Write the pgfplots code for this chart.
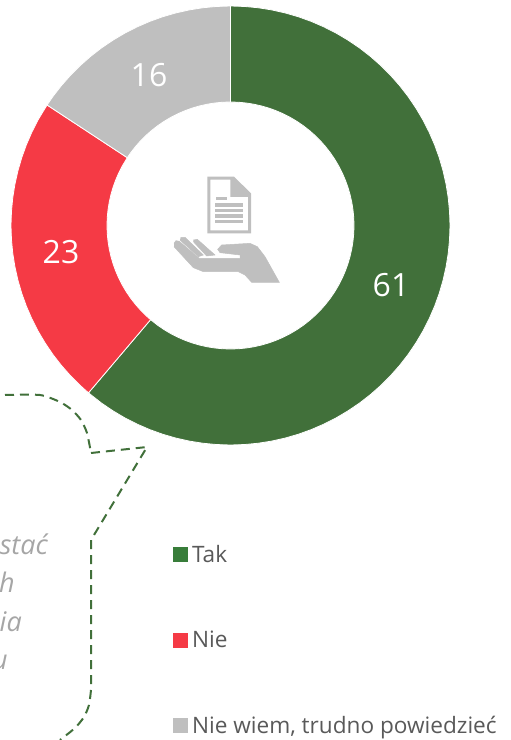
\documentclass[border=0pt]{standalone}
\usepackage{pgfplots}
\pgfplotsset{compat=1.18}
\usepackage{fontspec}
\setmainfont{Open Sans}
\definecolor{cgreen}{RGB}{65,112,58}
\definecolor{lgreen}{RGB}{56,125,58}
\definecolor{cred}{RGB}{245,58,69}
\definecolor{cgray}{RGB}{191,191,191}
\definecolor{ctext}{RGB}{89,89,89}
\definecolor{citalic}{RGB}{166,166,166}
\pgfplotsset{
  px/.style={x filter/.expression={x-230.5}, y filter/.expression={225.5-y}},
  zm/.style={x filter/.expression={x/3+160-230.5}, y filter/.expression={225.5-(y/3+165)}},
  wedge/.style n args={2}{fill=#1, draw=white, line width=0.8pt, data cs=polar,
    legend image code/.code={\path[draw=none, fill=#2] (0pt,-7.5pt) rectangle (15pt,7.5pt); \path[draw=none, fill=none] (0pt,0pt) -- (17.5pt,0pt);}},
  icon/.style={fill=cgray, draw=cgray, line width=0.5pt, forget plot, zm},
  leader/.style={draw=cgreen, line width=2pt, dash pattern=on 9pt off 6pt, forget plot, px},
}
\begin{document}
\begin{tikzpicture}
\useasboundingbox (0,0) rectangle (511pt,740pt);
\begin{axis}[
  at={(0,0)}, anchor=south west, width=511pt, height=740pt, scale only axis,
  xmin=-230.5, xmax=280.5, ymin=-514.5, ymax=225.5, hide axis,
  legend style={at={(axis cs:-58,-318)}, anchor=north west, draw=none, fill=none, inner sep=0pt, outer sep=0pt,
    font=\fontsize{22.6}{27}\selectfont\color{ctext}, row sep=63pt},
  legend cell align=left,
]
% Tak 61
\addplot[wedge={cgreen}{lgreen}] table[row sep=\\, x expr=90-3.6*\thisrow{p}, y=r] {
p r\\ 0 219.5\\ 1 219.5\\ 2 219.5\\ 3 219.5\\ 4 219.5\\ 5 219.5\\ 6 219.5\\ 7 219.5\\ 8 219.5\\ 9 219.5\\ 10 219.5\\ 11 219.5\\ 12 219.5\\ 13 219.5\\ 14 219.5\\ 15 219.5\\ 16 219.5\\ 17 219.5\\ 18 219.5\\ 19 219.5\\ 20 219.5\\ 21 219.5\\ 22 219.5\\ 23 219.5\\ 24 219.5\\ 25 219.5\\ 26 219.5\\ 27 219.5\\ 28 219.5\\ 29 219.5\\ 30 219.5\\ 31 219.5\\ 32 219.5\\ 33 219.5\\ 34 219.5\\ 35 219.5\\ 36 219.5\\ 37 219.5\\ 38 219.5\\ 39 219.5\\ 40 219.5\\ 41 219.5\\ 42 219.5\\ 43 219.5\\ 44 219.5\\ 45 219.5\\ 46 219.5\\ 47 219.5\\ 48 219.5\\ 49 219.5\\ 50 219.5\\ 51 219.5\\ 52 219.5\\ 53 219.5\\ 54 219.5\\ 55 219.5\\ 56 219.5\\ 57 219.5\\ 58 219.5\\ 59 219.5\\ 60 219.5\\ 61.2 219.5\\
61.2 123.5\\ 60 123.5\\ 59 123.5\\ 58 123.5\\ 57 123.5\\ 56 123.5\\ 55 123.5\\ 54 123.5\\ 53 123.5\\ 52 123.5\\ 51 123.5\\ 50 123.5\\ 49 123.5\\ 48 123.5\\ 47 123.5\\ 46 123.5\\ 45 123.5\\ 44 123.5\\ 43 123.5\\ 42 123.5\\ 41 123.5\\ 40 123.5\\ 39 123.5\\ 38 123.5\\ 37 123.5\\ 36 123.5\\ 35 123.5\\ 34 123.5\\ 33 123.5\\ 32 123.5\\ 31 123.5\\ 30 123.5\\ 29 123.5\\ 28 123.5\\ 27 123.5\\ 26 123.5\\ 25 123.5\\ 24 123.5\\ 23 123.5\\ 22 123.5\\ 21 123.5\\ 20 123.5\\ 19 123.5\\ 18 123.5\\ 17 123.5\\ 16 123.5\\ 15 123.5\\ 14 123.5\\ 13 123.5\\ 12 123.5\\ 11 123.5\\ 10 123.5\\ 9 123.5\\ 8 123.5\\ 7 123.5\\ 6 123.5\\ 5 123.5\\ 4 123.5\\ 3 123.5\\ 2 123.5\\ 1 123.5\\ 0 123.5\\ 0 219.5\\
};
\addlegendentry{Tak}
% Nie 23
\addplot[wedge={cred}{cred}] table[row sep=\\, x expr=90-3.6*\thisrow{p}, y=r] {
p r\\ 61.2 219.5\\ 62 219.5\\ 63 219.5\\ 64 219.5\\ 65 219.5\\ 66 219.5\\ 67 219.5\\ 68 219.5\\ 69 219.5\\ 70 219.5\\ 71 219.5\\ 72 219.5\\ 73 219.5\\ 74 219.5\\ 75 219.5\\ 76 219.5\\ 77 219.5\\ 78 219.5\\ 79 219.5\\ 80 219.5\\ 81 219.5\\ 82 219.5\\ 83 219.5\\ 84.25 219.5\\
84.25 123.5\\ 83 123.5\\ 82 123.5\\ 81 123.5\\ 80 123.5\\ 79 123.5\\ 78 123.5\\ 77 123.5\\ 76 123.5\\ 75 123.5\\ 74 123.5\\ 73 123.5\\ 72 123.5\\ 71 123.5\\ 70 123.5\\ 69 123.5\\ 68 123.5\\ 67 123.5\\ 66 123.5\\ 65 123.5\\ 64 123.5\\ 63 123.5\\ 62 123.5\\ 61.2 123.5\\ 61.2 219.5\\
};
\addlegendentry{Nie}
% Nie wiem 16
\addplot[wedge={cgray}{cgray}] table[row sep=\\, x expr=90-3.6*\thisrow{p}, y=r] {
p r\\ 84.25 219.5\\ 85 219.5\\ 86 219.5\\ 87 219.5\\ 88 219.5\\ 89 219.5\\ 90 219.5\\ 91 219.5\\ 92 219.5\\ 93 219.5\\ 94 219.5\\ 95 219.5\\ 96 219.5\\ 97 219.5\\ 98 219.5\\ 99 219.5\\ 100 219.5\\
100 123.5\\ 99 123.5\\ 98 123.5\\ 97 123.5\\ 96 123.5\\ 95 123.5\\ 94 123.5\\ 93 123.5\\ 92 123.5\\ 91 123.5\\ 90 123.5\\ 89 123.5\\ 88 123.5\\ 87 123.5\\ 86 123.5\\ 85 123.5\\ 84.25 123.5\\ 84.25 219.5\\
};
\addlegendentry{Nie wiem, trudno powiedzieć}
% data labels
\node[text=white, font=\fontsize{32}{38}\selectfont] at (axis cs:160.5,-59.5) {61};
\node[text=white, font=\fontsize{32}{38}\selectfont] at (axis cs:-169.5,-26.5) {23};
\node[text=white, font=\fontsize{32}{38}\selectfont] at (axis cs:-81.5,150.5) {16};
% leader
\addplot[leader, smooth, tension=0.4] coordinates {(5,395)(40,395)(60,402)(72,410)(81,420)(87,433)(91,453)};
\addplot[leader] coordinates {(91,453)(147,447)(91,540)(91,690)};
\addplot[leader, smooth, tension=0.4] coordinates {(91,690)(89,705)(84,717)(75,728)(60,740)};
% cut-off callout text
\node[anchor=base east, inner sep=0pt, text=citalic, font=\fontsize{27}{32}\selectfont\itshape] at (axis cs:-182.5,-329.5) {stać};
\node[anchor=base east, inner sep=0pt, text=citalic, font=\fontsize{27}{32}\selectfont\itshape] at (axis cs:-215.5,-367.5) {h};
\node[anchor=base east, inner sep=0pt, text=citalic, font=\fontsize{27}{32}\selectfont\itshape] at (axis cs:-208.5,-406.5) {ia};
\node[anchor=base east, inner sep=0pt, text=citalic, font=\fontsize{27}{32}\selectfont\itshape] at (axis cs:-222.5,-444.5) {u};
% icon: document
\addplot[fill=cgray, draw=none, forget plot, zm, even odd rule] coordinates {(142,35)(222,35)(273,85)(273,205)(142,205)(142,35)(151,44)(151,196)(264,196)(264,96)(211,96)(211,44)(151,44)(142,35)};
\addplot[icon] coordinates {(221,50)(221,86)(258,86)(221,50)};
\addplot[icon] coordinates {(168,97)(198,97)(198,104)(168,104)};
\addplot[icon] coordinates {(165,115)(248,115)(248,123)(165,123)};
\addplot[icon] coordinates {(165,132)(248,132)(248,140)(165,140)};
\addplot[icon] coordinates {(165,148)(248,148)(248,156)(165,156)};
\addplot[icon] coordinates {(165,165)(248,165)(248,173)(165,173)};
% icon: hand
\addplot[icon] coordinates {(42,235)(48,227)(58,229)(118,280)(240,280)(240,270)(180,263)(173,253)(185,240)(270,235)(292,245)(315,275)(358,352)(275,352)(255,330)(235,320)(130,320)(100,308)(42,245)};
\addplot[icon] coordinates {(62,217)(75,217)(130,270)(115,275)(60,225)};
\addplot[icon] coordinates {(100,225)(112,223)(165,270)(140,273)(100,230)};
\end{axis}
\end{tikzpicture}
\end{document}
